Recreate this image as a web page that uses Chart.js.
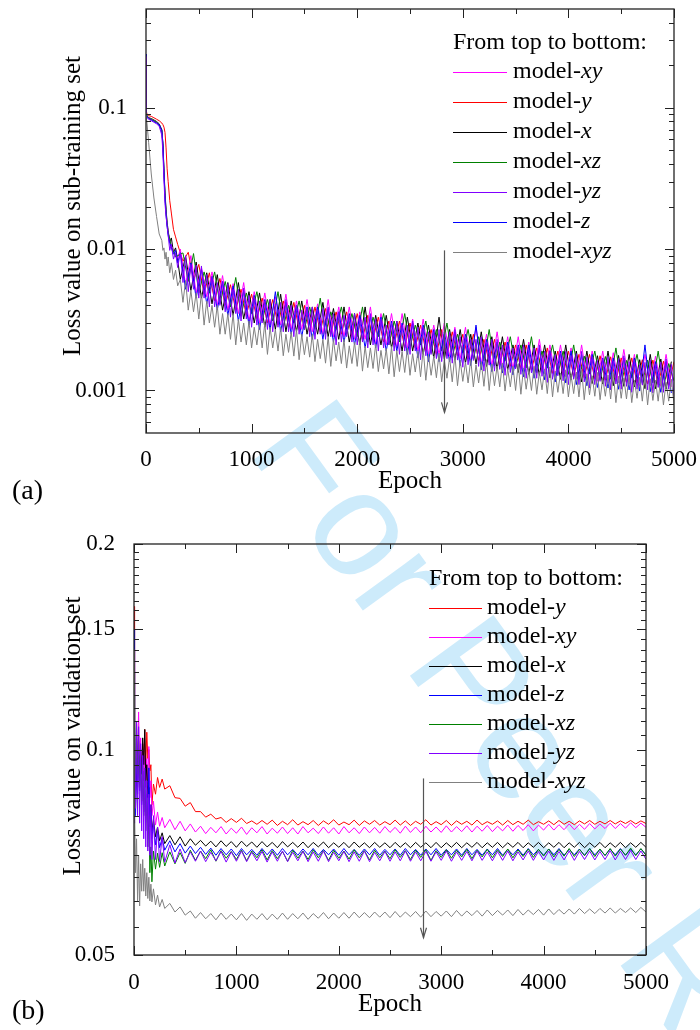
<!DOCTYPE html>
<html><head><meta charset="utf-8">
<script src="https://cdn.jsdelivr.net/npm/chart.js@4.4.0/dist/chart.umd.min.js"></script>
<style>
html,body{margin:0;padding:0;background:#fff;}
#wrap{position:relative;width:700px;height:1030px;overflow:hidden;background:#fff;}
#wm{position:absolute;left:0;top:0;font-family:"Liberation Sans",Arial,sans-serif;font-size:150px;line-height:150px;color:#cdebfb;white-space:nowrap;transform-origin:0 0;transform:translate(246px,450px) rotate(54deg) translate(0,-127px);z-index:0;}
canvas{position:absolute;left:0;z-index:1;}
</style></head><body>
<div id="wrap">
<div id="wm">For Peer Review</div>
<canvas id="ca" width="700" height="510" style="top:0"></canvas>
<canvas id="cb" width="700" height="520" style="top:510px"></canvas>
</div>
<script>
// ---------- shared ticks ----------
const X_TICKS = [0, 1000, 2000, 3000, 4000, 5000];
const X_MINOR = [500, 1500, 2500, 3500, 4500];

// ---------- panel (a): loss on sub-training set ----------
const A_EPOCH_EARLY = [0,3,10,25,50,75,100,125,150,160,170,180,190,200,210,225,240,260,280,300];
const A_EPOCH_BASE = A_EPOCH_EARLY.concat([350,400,450,500,550,600,650,700,750,800,850,900,950,1000,1050,1100,1150,1200,1250,1300,1350,1400,1450,1500,1550,1600,1650,1700,1750,1800,1850,1900,1950,2000,2050,2100,2150,2200,2250,2300,2350,2400,2450,2500,2550,2600,2650,2700,2750,2800,2850,2900,2950,3000,3050,3100,3150,3200,3250,3300,3350,3400,3450,3500,3550,3600,3650,3700,3750,3800,3850,3900,3950,4000,4050,4100,4150,4200,4250,4300,4350,4400,4450,4500,4550,4600,4650,4700,4750,4800,4850,4900,4950,5000]);
const A_EPOCH_OFF = A_EPOCH_EARLY.concat([325,375,425,475,525,575,625,675,725,775,825,875,925,975,1025,1075,1125,1175,1225,1275,1325,1375,1425,1475,1525,1575,1625,1675,1725,1775,1825,1875,1925,1975,2025,2075,2125,2175,2225,2275,2325,2375,2425,2475,2525,2575,2625,2675,2725,2775,2825,2875,2925,2975,3025,3075,3125,3175,3225,3275,3325,3375,3425,3475,3525,3575,3625,3675,3725,3775,3825,3875,3925,3975,4025,4075,4125,4175,4225,4275,4325,4375,4425,4475,4525,4575,4625,4675,4725,4775,4825,4875,4925,4975]);
const A_EPOCH_DENSE = A_EPOCH_EARLY.concat([325,350,375,400,425,450,475,500,525,550,575,600,625,650,675,700,725,750,775,800,825,850,875,900,925,950,975,1000,
1025,1050,1075,1100,1125,1150,1175,1200,1225,1250,1275,1300,1325,1350,1375,1400,1425,1450,1475,1500,1525,1550,1575,1600,1625,1650,1675,1700,1725,1750,1775,1800,1825,1850,1875,1900,1925,1950,1975,2000,
2025,2050,2075,2100,2125,2150,2175,2200,2225,2250,2275,2300,2325,2350,2375,2400,2425,2450,2475,2500,2525,2550,2575,2600,2625,2650,2675,2700,2725,2750,2775,2800,2825,2850,2875,2900,2925,2950,2975,3000,
3025,3050,3075,3100,3125,3150,3175,3200,3225,3250,3275,3300,3325,3350,3375,3400,3425,3450,3475,3500,3525,3550,3575,3600,3625,3650,3675,3700,3725,3750,3775,3800,3825,3850,3875,3900,3925,3950,3975,4000,
4025,4050,4075,4100,4125,4150,4175,4200,4225,4250,4275,4300,4325,4350,4375,4400,4425,4450,4475,4500,4525,4550,4575,4600,4625,4650,4675,4700,4725,4750,4775,4800,4825,4850,4875,4900,4925,4950,4975,5000]);

const A_XY = [.22,.09,.087,.085,.083,.081,.079,.076,.068,.052,.034,.023,.018,.015,.013,.0115,.0105,.0098,.0090,.0086,
.0100,.0056,.0090,.0049,.0074,.0046,.0069,.0040,.0065,.0037,
.0057,.0035,.0058,.0031,.0050,.0030,.0049,.0029,.0046,.0029,
.0048,.0027,.0043,.0027,.0044,.0026,.0041,.0025,.0044,.0024,
.0039,.0024,.0039,.0023,.0036,.0023,.0039,.0021,.0035,.0021,
.0035,.0020,.0035,.0020,.0032,.0019,.0032,.0018,.0029,.0018,
.0030,.00174,.0028,.00168,.0028,.0016,.0028,.00155,.0025,.0015,
.0026,.00145,.0024,.00142,.0024,.00136,.0022,.00134,.0023,.00131,
.0021,.00126,.0021,.00125,.0020,.0012,.0021,.00119,.0019,.00116,
.0019,.00113,.00185,.00113,.00195,.00111,.0018,.00108,.0018,.00108,
.00175,.00107,.0018,.00106];
const A_Y = [.20,.095,.09,.088,.087,.085,.083,.081,.078,.076,.073,.067,.052,.037,.030,.022,.018,.0138,.0122,.0108,
.0082,.0095,.0060,.0078,.0048,.0068,.0043,.0062,.0040,.0056,
.0037,.0052,.0034,.0048,.0032,.0045,.0030,.0044,.0029,.0043,
.0028,.0042,.0027,.0040,.0026,.0039,.0026,.0038,.0025,.0036,
.0025,.0036,.0024,.0035,.0023,.0034,.0023,.0033,.0022,.0031,
.0021,.0031,.0020,.0030,.0020,.0029,.0019,.0027,.0018,.0027,
.00176,.0026,.00176,.0025,.00167,.0025,.00163,.0023,.00158,.0023,
.00151,.0022,.00148,.0021,.00143,.0021,.00139,.0020,.00136,.0020,
.00132,.0019,.00128,.0019,.00126,.0018,.00123,.0018,.00121,.00176,
.00118,.00173,.00116,.0017,.00114,.0017,.00113,.00165,.00111,.00164,
.0011,.00161,.00109,.0016];
const A_X = [.20,.092,.088,.085,.084,.082,.080,.077,.070,.056,.037,.025,.019,.0155,.0135,.0112,.0120,.0095,.0102,.0084,
.0061,.0089,.0051,.0081,.0045,.0068,.0041,.0066,.0037,.0058,
.0034,.0058,.0032,.0050,.0030,.0049,.0028,.0044,.0027,.0048,
.0026,.0043,.0026,.0043,.0025,.0039,.0025,.0042,.0024,.0038,
.0023,.0039,.0022,.0035,.0021,.0039,.0021,.0034,.0021,.0034,
.0020,.0031,.0019,.0033,.0019,.0030,.0018,.0029,.0017,.0033,
.00166,.0027,.00164,.0027,.00156,.0025,.00154,.0026,.00148,.0024,
.00141,.0024,.0014,.0021,.00134,.0023,.0013,.0021,.00128,.0021,
.00123,.0019,.0012,.0021,.00119,.0019,.00115,.0019,.00112,.00176,
.00111,.0019,.00108,.00177,.00107,.0018,.00106,.00165,.00103,.0018,
.00103,.00167,.00102,.0016];
const A_XZ = [.21,.093,.087,.085,.083,.081,.079,.076,.069,.054,.035,.024,.0185,.015,.013,.0118,.0103,.0097,.0088,.0090,
.0094,.0059,.0093,.0049,.0069,.0049,.0069,.0041,.0059,.0039,
.0063,.0034,.0049,.0035,.0050,.0031,.0044,.0031,.0050,.0028,
.0040,.0030,.0043,.0027,.0039,.0027,.0045,.0025,.0036,.0027,
.0039,.0025,.0035,.0024,.0039,.0022,.0033,.0024,.0035,.0021,
.0031,.0022,.0035,.0020,.0029,.0021,.0031,.00185,.0027,.0019,
.0030,.0017,.0025,.00185,.0027,.00167,.0024,.00162,.0027,.00149,
.0022,.00162,.0024,.00145,.0021,.00144,.0024,.00133,.0019,.00144,
.0021,.0013,.0019,.0013,.0021,.0012,.00175,.00131,.0019,.00119,
.00174,.0012,.002,.00111,.00163,.00123,.0018,.00112,.00164,.00113,
.0019,.00105,.00155,.00117];
const A_YZ = [.23,.088,.085,.083,.081,.079,.077,.074,.064,.048,.031,.021,.017,.0145,.0125,.0098,.0108,.0085,.0094,.0074,
.0095,.0058,.0090,.0050,.0078,.0052,.0077,.0045,.0076,.0045,.0066,.0039,.0064,.0039,.0058,.0040,.0058,.0036,.0057,.0033,.0052,.0035,.0052,.0031,.0053,.0032,.0047,.0028,
.0046,.0029,.0043,.0030,.0043,.0027,.0044,.0026,.0041,.0028,.0042,.0026,.0044,.0026,.0040,.0024,.0040,.0025,.0037,.0027,.0038,.0024,.0039,.0023,.0037,.0025,.0038,.0023,.0039,.0024,.0035,.0021,.0036,.0022,.0034,.0024,.0034,.0022,.0035,.0021,
.0032,.0022,.0033,.0020,.0035,.0021,.0032,.0019,.0032,.0020,.0029,.0021,.0030,.0019,.0031,.0018,.0029,.0019,.0029,.0018,.0031,.0019,.0028,.00165,.0028,.00176,.0026,.0018,.0026,.00168,.0027,.0016,.0025,.00168,.0026,.00156,.0027,.00164,.0024,.00146,
.0024,.00152,.0023,.00163,.0023,.00148,.0024,.00137,.0022,.00151,.0023,.00137,.0023,.00141,.0021,.00128,.0021,.00134,.002,.00142,.00205,.0013,.0021,.00122,.00194,.00133,.002,.00122,.0021,.00126,.0019,.00114,.00192,.0012,.00179,.00127,.00184,.00117,.00189,.0011,
.00176,.0012,.00182,.0011,.00189,.00115,.00172,.00104,.00174,.0011,.00163,.00116,.00168,.00107,.00173,.00101,.00161,.00111,.00168,.00102,.00176,.00107,.0016,.00097,.00163,.00102,.00152,.00109,.00158,.00101,.00164,.00096,.00153,.00105,.00159,.00097,.00167,.00102,.00153,.00092];
const A_Z = [.24,.09,.086,.084,.082,.080,.078,.076,.069,.056,.036,.023,.0175,.0145,.0125,.011,.0102,.0092,.0098,.0080,
.0094,.0052,.0080,.0045,.0072,.0041,.0064,.0037,.0059,.0034,
.0055,.0031,.0051,.0029,.0047,.0027,.0044,.0027,.0050,.0026,
.0042,.0025,.0040,.0024,.0039,.0023,.0039,.0023,.0038,.0022,
.0036,.0022,.0035,.0021,.0034,.0020,.0034,.0020,.0033,.0019,
.0031,.0019,.0030,.0018,.0030,.0017,.0029,.0016,.0027,.0016,
.0026,.0016,.0026,.0015,.0025,.0015,.0029,.0014,.0023,.00136,
.0022,.00133,.0022,.00129,.0021,.00125,.0021,.00122,.0020,.00119,
.0019,.00115,.0019,.00113,.0019,.0011,.0018,.00108,.0018,.00105,
.0017,.00104,.0017,.00102,.0017,.00101,.0017,.00099,.0021,.00098,
.0016,.00097,.0016,.00096];
const A_XYZ = [.092,.086,.077,.057,.034,.023,.017,.0128,.0115,.0098,.0102,.0085,.0095,.0076,.0088,.0068,.0080,.0061,.0071,.0055,
.0061,.0042,.0060,.0037,.0051,.0036,.0049,.0032,.0049,.0029,.0043,.0030,.0040,.0028,.0040,.0025,.0035,.0025,.0035,.0023,.0035,.0021,.0032,.0022,.0030,.0021,.0031,.0020,
.0028,.0021,.0030,.0020,.0030,.0018,.0028,.0020,.0027,.0019,.0028,.00176,.0025,.00186,.0026,.00175,.0027,.00165,.0025,.00179,.0024,.00172,.0025,.0016,.0023,.00168,.0023,.00156,.0024,.00148,.0023,.00162,.0022,.00155,.0023,.00144,.00207,.00155,.0022,.00148,
.0023,.00137,.00206,.00145,.002,.00143,.00213,.00136,.00192,.00142,.00198,.00131,.00205,.00125,.00192,.00136,.00189,.00134,.002,.00128,.00182,.00135,.00189,.00125,.00195,.00118,.0018,.00128,.00175,.00123,.00183,.00115,.00164,.00122,.00172,.00115,.00178,.00108,.00164,.00116,
.00159,.00113,.00166,.00106,.00152,.00113,.0016,.00107,.00165,.001,.00154,.00108,.00149,.00106,.00156,.00099,.00143,.00106,.00149,.001,.00155,.00094,.00144,.00102,.0014,.001,.00148,.00094,.00135,.00101,.00142,.00095,.00147,.0009,.00137,.00097,.00133,.00095,.0014,.0009,
.00129,.00095,.00135,.0009,.00141,.00086,.00131,.00093,.00127,.00091,.00134,.00086,.00123,.00091,.00129,.00087,.00134,.00082,.00126,.00088,.00123,.00087,.00129,.00082,.00118,.00088,.00124,.00084,.00129,.00079,.00121,.00085,.00118,.00084,.00124,.00079,.00114,.00084,.0012,.0008];
const A_Y_TICKS = [0.001, 0.01, 0.1];
const A_Y_LABELS = ['0.001', '0.01', '0.1'];
const A_Y_MINOR = [0.0006,0.0007,0.0008,0.0009,0.002,0.003,0.004,0.005,0.006,0.007,0.008,0.009,0.02,0.03,0.04,0.05,0.06,0.07,0.08,0.09,0.2,0.3,0.4];
const A_LEGEND = ['xy', 'y', 'x', 'xz', 'yz', 'z', 'xyz'];

// ---------- panel (b): loss on validation set ----------
const B_EPOCH = [0,3,8,15,25,35,45,55,65,75,85,95,105,115,125,135,145,155,165,175,190,210,230,250,275,300,350,400,450,500,
550,600,650,700,750,800,850,900,950,1000,1050,1100,1150,1200,1250,1300,1350,1400,1450,1500,1550,1600,1650,1700,1750,1800,1850,1900,1950,2000,
2050,2100,2150,2200,2250,2300,2350,2400,2450,2500,2550,2600,2650,2700,2750,2800,2850,2900,2950,3000,3050,3100,3150,3200,3250,3300,3350,3400,3450,3500,
3550,3600,3650,3700,3750,3800,3850,3900,3950,4000,4050,4100,4150,4200,4250,4300,4350,4400,4450,4500,4550,4600,4650,4700,4750,4800,4850,4900,4950,5000];
const B_Y = [.162,.125,.098,.088,.1,.092,.103,.095,.099,.094,.102,.096,.107,.095,.106,.097,.1,.093,.095,.083,.089,.086,.091,.088,.0905,.0875,.0885,.085,.0848,.0826,
.0836,.0811,.0811,.0796,.0804,.0791,.0795,.0782,.0792,.0782,.0793,.0779,.0786,.0777,.0787,.0777,.0788,.0774,.0785,.0776,.0789,.0775,.0784,.0776,.0787,.0774,.0786,.0777,.0789,.0775,
.0783,.0776,.0788,.0774,.0786,.0777,.0787,.0775,.0784,.0776,.0788,.0775,.0786,.0774,.0785,.0777,.0789,.0775,.0784,.0776,.0787,.0774,.0786,.0777,.0785,.0775,.0788,.0776,.0784,.0777,
.0786,.0775,.0787,.0776,.0785,.0777,.0788,.0776,.0784,.0777,.0786,.0776,.0787,.0777,.0785,.0776,.0786,.0778,.0787,.0777,.0785,.0778,.0787,.0778,.0786,.0779,.0787,.0778,.0786,.0779];
const B_XY = [.14,.11,.095,.088,.105,.098,.1135,.094,.104,.092,.1,.09,.098,.088,.097,.089,.101,.085,.09,.08,.084,.0775,.081,.0772,.0795,.0768,.0790,.0763,.0785,.0760,
.0778,.0757,.0772,.0753,.0769,.0755,.0771,.0752,.0767,.0754,.0770,.0751,.0768,.0755,.0771,.0752,.0767,.0754,.0770,.0753,.0768,.0752,.0771,.0755,.0767,.0753,.0770,.0754,.0768,.0752,
.0771,.0755,.0768,.0753,.0770,.0755,.0769,.0754,.0771,.0756,.0769,.0754,.0772,.0756,.0770,.0755,.0772,.0757,.0770,.0756,.0773,.0757,.0771,.0758,.0773,.0757,.0772,.0759,.0774,.0758,
.0772,.0760,.0775,.0759,.0774,.0761,.0776,.0760,.0775,.0762,.0777,.0762,.0776,.0763,.0778,.0763,.0777,.0764,.0779,.0765,.0778,.0766,.0780,.0766,.0779,.0767,.0781,.0768,.0780,.0769];
const B_X = [.13,.1,.09,.082,.095,.088,.098,.09,.1,.092,.104,.095,.107,.09,.095,.085,.088,.079,.083,.076,.079,.0745,.077,.0735,.0755,.0728,.0748,.0725,.0745,.0722,
.0740,.0724,.0736,.0722,.0734,.0720,.0735,.0721,.0733,.0719,.0734,.0721,.0732,.0719,.0733,.0720,.0731,.0718,.0733,.0720,.0731,.0719,.0732,.0718,.0731,.0720,.0732,.0718,.0730,.0719,
.0731,.0718,.0732,.0719,.0730,.0718,.0731,.0719,.0730,.0718,.0731,.0719,.0730,.0718,.0731,.0719,.0730,.0718,.0731,.0718,.0730,.0719,.0731,.0718,.0730,.0719,.0731,.0718,.0730,.0719,
.0731,.0718,.0730,.0719,.0731,.0718,.0730,.0719,.0731,.0718,.0730,.0719,.0731,.0718,.0730,.0719,.0731,.0718,.0730,.0719,.0731,.0718,.0730,.0719,.0731,.0718,.0730,.0719,.0731,.0719];
const B_Z = [.15,.12,.092,.08,.097,.086,.1,.087,.096,.083,.093,.081,.09,.08,.086,.078,.094,.077,.081,.074,.078,.0725,.076,.0718,.0742,.0712,.0735,.0708,.0728,.0705,
.0722,.0704,.0719,.0702,.0717,.0700,.0716,.0701,.0715,.0699,.0716,.0701,.0714,.0700,.0716,.0701,.0715,.0700,.0716,.0701,.0714,.0700,.0715,.0701,.0716,.0700,.0714,.0701,.0715,.0700,
.0716,.0701,.0714,.0700,.0715,.0701,.0716,.0700,.0714,.0701,.0715,.0700,.0716,.0701,.0714,.0700,.0715,.0701,.0716,.0700,.0714,.0701,.0715,.0700,.0716,.0701,.0714,.0700,.0715,.0701,
.0716,.0700,.0714,.0701,.0715,.0700,.0716,.0701,.0714,.0700,.0715,.0701,.0716,.0700,.0714,.0701,.0715,.0700,.0716,.0701,.0714,.0700,.0715,.0701,.0716,.0700,.0714,.0701,.0715,.0701];
const B_XZ = [.12,.1,.11,.09,.109,.092,.105,.088,.098,.084,.095,.08,.09,.076,.085,.072,.08,.066,.072,.064,.071,.0668,.0705,.0672,.0706,.0675,.0708,.0680,.0706,.0681,
.0712,.0688,.0710,.0692,.0713,.0686,.0711,.0693,.0709,.0690,.0712,.0687,.0710,.0694,.0713,.0689,.0711,.0692,.0709,.0686,.0712,.0693,.0710,.0690,.0713,.0694,.0711,.0688,.0712,.0693,
.0710,.0691,.0713,.0694,.0711,.0689,.0712,.0694,.0710,.0692,.0713,.0695,.0711,.0690,.0712,.0695,.0713,.0688,.0711,.0695,.0713,.0693,.0712,.0696,.0714,.0692,.0712,.0696,.0714,.0694,
.0713,.0697,.0715,.0694,.0713,.0697,.0715,.0695,.0714,.0698,.0715,.0696,.0714,.0698,.0716,.0697,.0714,.0699,.0716,.0697,.0715,.0699,.0716,.0698,.0715,.0700,.0717,.0699,.0716,.0700];
const B_YZ = [.095,.078,.105,.082,.11,.08,.108,.078,.102,.076,.098,.074,.094,.072,.09,.071,.086,.07,.083,.069,.08,.069,.077,.0685,.0745,.0684,.0725,.0682,.0715,.0683,
.0708,.0686,.0710,.0685,.0707,.0687,.0709,.0684,.0708,.0686,.0710,.0685,.0707,.0687,.0709,.0684,.0708,.0686,.0710,.0685,.0707,.0687,.0709,.0685,.0708,.0686,.0710,.0685,.0707,.0687,
.0709,.0685,.0708,.0686,.0710,.0685,.0707,.0687,.0709,.0686,.0708,.0687,.0710,.0686,.0708,.0687,.0709,.0686,.0708,.0688,.0710,.0686,.0708,.0688,.0709,.0687,.0710,.0688,.0708,.0687,
.0709,.0688,.0710,.0687,.0708,.0689,.0710,.0688,.0709,.0689,.0710,.0688,.0709,.0689,.0710,.0688,.0709,.0690,.0710,.0689,.0709,.0690,.0711,.0689,.0710,.0690,.0711,.0690,.0710,.0691];
const B_XYZ = [.14,.105,.082,.066,.074,.06,.07,.059,.068,.062,.069,.062,.067,.061,.066,.0605,.065,.06,.0635,.0598,.0625,.0592,.0612,.0588,.0603,.0585,.0595,.0578,.0588,.0572,
.0580,.0566,.0577,.0565,.0575,.0563,.0576,.0564,.0574,.0563,.0575,.0562,.0574,.0564,.0575,.0563,.0574,.0564,.0576,.0564,.0575,.0565,.0576,.0564,.0575,.0566,.0577,.0565,.0576,.0566,
.0577,.0566,.0578,.0567,.0577,.0567,.0578,.0568,.0578,.0567,.0579,.0568,.0578,.0569,.0579,.0568,.0580,.0569,.0579,.0570,.0580,.0569,.0581,.0570,.0580,.0571,.0581,.0570,.0582,.0571,
.0581,.0572,.0582,.0571,.0583,.0572,.0582,.0573,.0583,.0572,.0584,.0573,.0583,.0574,.0584,.0574,.0585,.0575,.0584,.0575,.0585,.0576,.0586,.0576,.0585,.0577,.0586,.0577,.0587,.0578];
const B_Y_TICKS = [0.05, 0.1, 0.15, 0.2];
const B_Y_LABELS = ['0.05', '0.1', '0.15', '0.2'];
const B_Y_MINOR = [0.055,0.06,0.065,0.07,0.075,0.08,0.085,0.09,0.095,0.105,0.11,0.115,0.12,0.125,0.13,0.135,0.14,0.145,0.155,0.16,0.165,0.17,0.175,0.18,0.185,0.19,0.195];
const B_LEGEND = ['y', 'xy', 'x', 'z', 'xz', 'yz', 'xyz'];

// ---------- styling ----------
const COLORS = {xy:'#ff00ff', y:'#ff0000', x:'#000000', xz:'#008000', yz:'#8000ff', z:'#0000ff', xyz:'#808080'};
const SERIF = '"Liberation Serif","Times New Roman",serif';

function decoPlugin(c) {
  return {
    id: 'deco',
    afterDraw(chart) {
      const ctx = chart.ctx;
      const {left, right, top, bottom} = chart.chartArea;
      const xs = chart.scales.x, ys = chart.scales.y;
      const seg = (x1, y1, x2, y2) => { ctx.beginPath(); ctx.moveTo(x1, y1); ctx.lineTo(x2, y2); ctx.stroke(); };
      ctx.save();
      ctx.strokeStyle = '#222'; ctx.lineWidth = 1;
      const xt = (v, len) => { const p = Math.round(xs.getPixelForValue(v)) + 0.5; seg(p, bottom, p, bottom - len); seg(p, top, p, top + len); };
      const yt = (v, len) => { const p = Math.round(ys.getPixelForValue(v)) + 0.5; seg(left, p, left + len, p); seg(right, p, right - len, p); };
      X_TICKS.forEach(v => xt(v, 9)); X_MINOR.forEach(v => xt(v, 5));
      c.yTicks.forEach(v => yt(v, 9)); c.yMinor.forEach(v => yt(v, 5));
      ctx.lineWidth = 1.3; ctx.strokeStyle = '#222';
      ctx.strokeRect(left, top, right - left, bottom - top);
      // arrow
      ctx.strokeStyle = '#555'; ctx.lineWidth = 1.2;
      const ax = Math.round(xs.getPixelForValue(c.arrow.epoch)) + 0.5;
      const ay1 = ys.getPixelForValue(c.arrow.from), ay2 = ys.getPixelForValue(c.arrow.to);
      seg(ax, ay1, ax, ay2);
      ctx.beginPath(); ctx.moveTo(ax - 3, ay2 - 10); ctx.lineTo(ax, ay2); ctx.lineTo(ax + 3, ay2 - 10); ctx.stroke();
      // legend
      const lg = c.legend;
      ctx.fillStyle = '#000'; ctx.textBaseline = 'middle'; ctx.textAlign = 'left';
      ctx.font = '24px ' + SERIF;
      ctx.fillText('From top to bottom:', lg.x, lg.titleY);
      lg.keys.forEach((k, i) => {
        const y = lg.y0 + i * lg.dy;
        ctx.strokeStyle = COLORS[k]; ctx.lineWidth = 1.2;
        seg(lg.x, Math.round(y) + 0.5, lg.x + lg.len, Math.round(y) + 0.5);
        ctx.font = '24px ' + SERIF;
        ctx.fillText('model-', lg.tx, y);
        const w = ctx.measureText('model-').width;
        ctx.font = 'italic 24px ' + SERIF;
        ctx.fillText(k, lg.tx + w, y);
      });
      // axis titles
      ctx.font = '25px ' + SERIF; ctx.fillStyle = '#000';
      ctx.save(); ctx.translate(c.yTitle.x, c.yTitle.y); ctx.rotate(-Math.PI / 2);
      ctx.textAlign = 'center'; ctx.textBaseline = 'middle'; ctx.fillText(c.yTitle.text, 0, 0); ctx.restore();
      ctx.textAlign = 'center'; ctx.textBaseline = 'alphabetic';
      ctx.fillText('Epoch', (left + right) / 2, c.xTitleY);
      // panel label
      ctx.font = '28px ' + SERIF; ctx.textAlign = 'left'; ctx.textBaseline = 'middle';
      ctx.fillText(c.panel.text, c.panel.x, c.panel.y);
      ctx.restore();
    }
  };
}

function buildChart(id, c) {
  const datasets = c.keys.map(k => {
    const xsArr = c.epochs[k], ysArr = c.series[k];
    if (xsArr.length !== ysArr.length) console.error('length mismatch', id, k, xsArr.length, ysArr.length);
    return {
      label: 'model-' + k,
      data: ysArr.map((v, i) => ({x: xsArr[i], y: v})),
      borderColor: COLORS[k], backgroundColor: COLORS[k],
      borderWidth: 1, pointRadius: 0, tension: 0, fill: false, order: c.order[k]
    };
  });
  const tickFont = {family: SERIF, size: 23, lineHeight: 1.2};
  return new Chart(document.getElementById(id), {
    type: 'line',
    data: {datasets},
    options: {
      responsive: false, animation: false, devicePixelRatio: 1,
      layout: {padding: c.padding},
      plugins: {legend: {display: false}, tooltip: {enabled: false}},
      scales: {
        x: {
          type: 'linear', min: 0, max: 5000,
          afterBuildTicks: s => { s.ticks = X_TICKS.map(v => ({value: v})); },
          ticks: {font: tickFont, color: '#000', padding: c.xPad, maxRotation: 0, autoSkip: false, callback: v => String(v)},
          grid: {display: false}, border: {display: false},
          afterFit: s => { s.height = c.xHeight; s.paddingLeft = 0; s.paddingRight = 0; }
        },
        y: {
          type: 'logarithmic', min: c.yMin, max: c.yMax,
          afterBuildTicks: s => { s.ticks = c.yTicks.map(v => ({value: v})); },
          ticks: {font: tickFont, color: '#000', padding: 11, autoSkip: false, callback: (v, i) => c.yLabels[i]},
          grid: {display: false}, border: {display: false},
          afterFit: s => { s.width = c.yWidth; s.paddingTop = 0; s.paddingBottom = 0; }
        }
      }
    },
    plugins: [decoPlugin(c)]
  });
}

buildChart('ca', {
  epochs: {xy: A_EPOCH_OFF, y: A_EPOCH_BASE, x: A_EPOCH_OFF, xz: A_EPOCH_BASE, yz: A_EPOCH_DENSE, z: A_EPOCH_OFF, xyz: A_EPOCH_DENSE},
  series: {xy: A_XY, y: A_Y, x: A_X, xz: A_XZ, yz: A_YZ, z: A_Z, xyz: A_XYZ},
  keys: ['xy', 'y', 'x', 'xz', 'yz', 'z', 'xyz'],
  order: {xyz: 0, yz: 1, z: 2, xz: 3, xy: 4, x: 5, y: 6},
  padding: {top: 9, right: 26, left: 0, bottom: 0},
  yWidth: 146, xHeight: 77, xPad: 5,
  yMin: 0.0005, yMax: 0.5, yTicks: A_Y_TICKS, yLabels: A_Y_LABELS, yMinor: A_Y_MINOR,
  arrow: {epoch: 2820, from: 0.0098, to: 0.0007},
  legend: {keys: A_LEGEND, x: 453, titleY: 43, y0: 72, dy: 30, len: 54, tx: 513},
  yTitle: {text: 'Loss value on sub-training set', x: 73, y: 206},
  xTitleY: 488,
  panel: {text: '(a)', x: 12, y: 492}
});

buildChart('cb', {
  epochs: {xy: B_EPOCH, y: B_EPOCH, x: B_EPOCH, xz: B_EPOCH, yz: B_EPOCH, z: B_EPOCH, xyz: B_EPOCH},
  series: {xy: B_XY, y: B_Y, x: B_X, xz: B_XZ, yz: B_YZ, z: B_Z, xyz: B_XYZ},
  keys: ['y', 'xy', 'x', 'z', 'xz', 'yz', 'xyz'],
  order: {xyz: 0, yz: 1, xz: 2, z: 3, x: 4, xy: 5, y: 6},
  padding: {top: 34, right: 54, left: 0, bottom: 0},
  yWidth: 134, xHeight: 75, xPad: 6,
  yMin: 0.05, yMax: 0.2, yTicks: B_Y_TICKS, yLabels: B_Y_LABELS, yMinor: B_Y_MINOR,
  arrow: {epoch: 2820, from: 0.0907, to: 0.053},
  legend: {keys: B_LEGEND, x: 429, titleY: 69, y0: 98, dy: 29, len: 53, tx: 487},
  yTitle: {text: 'Loss value on validation set', x: 73, y: 226},
  xTitleY: 501,
  panel: {text: '(b)', x: 12, y: 502}
});
</script>
</body></html>
